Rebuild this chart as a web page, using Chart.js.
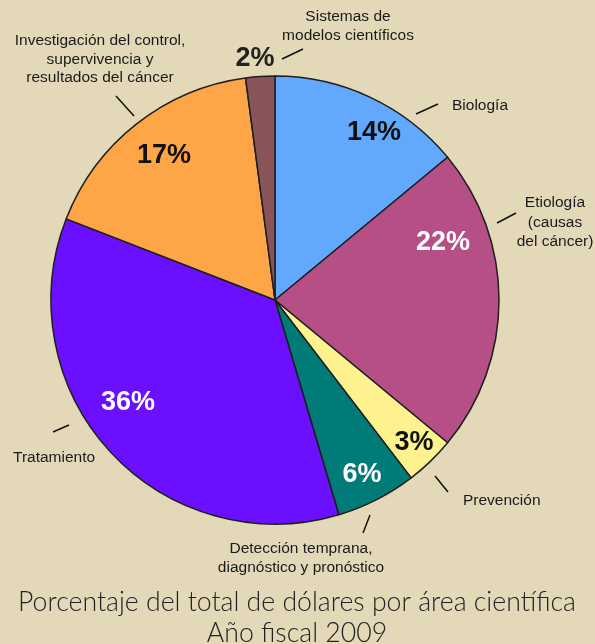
<!DOCTYPE html>
<html>
<head>
<meta charset="utf-8">
<script src="https://cdn.jsdelivr.net/npm/chart.js@4"></script>
<style>
  html, body { margin: 0; padding: 0; background: #e3d9b9; }
  #wrap { position: relative; width: 595px; height: 644px; }
</style>
</head>
<body>
<div id="wrap"><canvas id="chartArea"></canvas></div>
<script>
// datos (porcentaje del total por área científica, año fiscal 2009)
const areas = [
    "Biología",
    "Etiología (causas del cáncer)",
    "Prevención",
    "Detección temprana, diagnóstico y pronóstico",
    "Tratamiento",
    "Investigación del control, supervivencia y resultados del cáncer",
    "Sistemas de modelos científicos"
];
// tamaño de cada porción
const valores = [14.0, 22.0, 3.6, 5.8, 35.5, 17.0, 2.1];
// porcentajes tal como se rotulan
const porcentajes = [14, 22, 3, 6, 36, 17, 2];
const colores = ["#62a9fe", "#b64f86", "#fef28f", "#007b78", "#6a10fe", "#fea647", "#885457"];

// texto de las etiquetas (una línea por elemento)
const etiquetas = [
    ["Biología"],
    ["Etiología", "(causas", "del cáncer)"],
    ["Prevención"],
    ["Detección temprana,", "diagnóstico y pronóstico"],
    ["Tratamiento"],
    ["Investigación del control,", "supervivencia y", "resultados del cáncer"],
    ["Sistemas de", "modelos científicos"]
];
const titulo = ["Porcentaje del total de dólares por área científica", "Año fiscal 2009"];

// colocación de textos y líneas guía (x, y en pixeles)
const posPct = [[374, 133], [443, 243], [414, 443], [362, 475], [128, 403], [164, 156], [255, 59]];
const colorPct = ["#111", "#fff", "#111", "#fff", "#fff", "#111", "#222"];
const posEtiqueta = [
    {x: 452, y: 106, align: "left"},
    {x: 555, y: 203, align: "center"},
    {x: 463, y: 501, align: "left"},
    {x: 301, y: 549, align: "center"},
    {x: 13, y: 458, align: "left"},
    {x: 100, y: 41, align: "center"},
    {x: 348, y: 17, align: "center"}
];
const guias = [
    [416, 114, 438, 104],
    [497, 223, 516, 213],
    [435, 476, 448, 492],
    [363, 533, 370, 515],
    [53, 432, 69, 425],
    [116, 96, 134, 116],
    [282, 59, 303, 49]
];

const textosPlugin = {
    id: "textos",
    afterDatasetsDraw(chart) {
        const ctx = chart.ctx;
        ctx.save();
        ctx.textBaseline = "middle";

        // porcentajes
        ctx.font = "bold 27px 'Liberation Sans', Arial, sans-serif";
        ctx.textAlign = "center";
        porcentajes.forEach((p, i) => {
            ctx.fillStyle = colorPct[i];
            ctx.fillText(p + "%", posPct[i][0], posPct[i][1]);
        });

        // líneas guía
        ctx.strokeStyle = "#111";
        ctx.lineWidth = 1.5;
        guias.forEach(g => {
            ctx.beginPath();
            ctx.moveTo(g[0], g[1]);
            ctx.lineTo(g[2], g[3]);
            ctx.stroke();
        });

        // etiquetas
        ctx.fillStyle = "#1a1a1a";
        ctx.font = "15.5px 'Liberation Sans', Arial, sans-serif";
        etiquetas.forEach((lineas, i) => {
            const p = posEtiqueta[i];
            ctx.textAlign = p.align;
            const alto = i === 1 ? 19.5 : 18.5;
            lineas.forEach((l, k) => ctx.fillText(l, p.x, p.y + k * alto));
        });

        // título
        ctx.fillStyle = "#222";
        ctx.textAlign = "center";
        ctx.font = "300 24px Lato, 'Open Sans', sans-serif";
        const w = ctx.measureText(titulo[0]).width;
        const size = 24 * 558 / w;
        ctx.font = "300 " + size.toFixed(2) + "px Lato, 'Open Sans', sans-serif";
        ctx.fillText(titulo[0], 297, 602);
        ctx.fillText(titulo[1], 297, 633);
        ctx.restore();
    }
};

const ctx = document.getElementById("chartArea").getContext("2d");
new Chart(ctx, {
    type: "pie",
    data: {
        labels: areas,
        datasets: [{
            data: valores,
            backgroundColor: colores,
            borderColor: "#1e1e1e",
            borderWidth: 1.5
        }]
    },
    options: {
        responsive: true,
        maintainAspectRatio: false,
        animation: false,
        radius: 224,
        layout: { padding: { left: 50, right: 95, top: 75, bottom: 119 } },
        plugins: {
            legend: { display: false },
            tooltip: { enabled: false }
        },
        events: []
    },
    plugins: [textosPlugin]
});
</script>
</body>
</html>
